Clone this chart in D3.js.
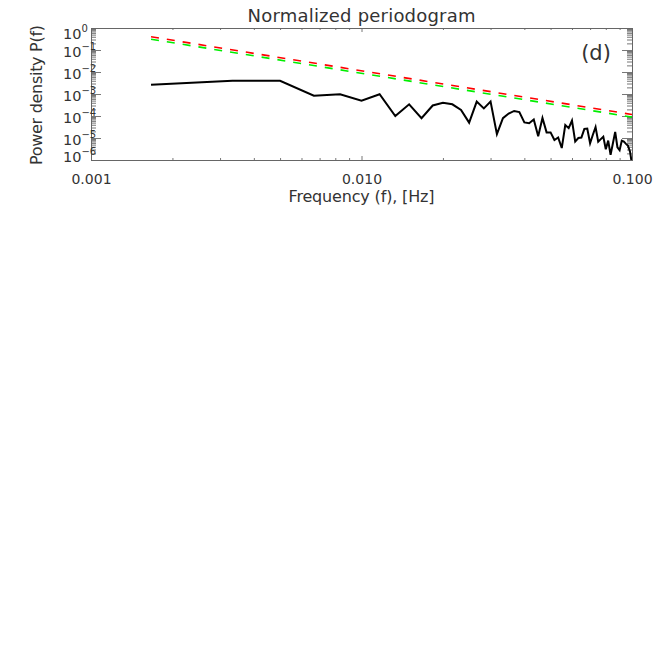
<!DOCTYPE html>
<html>
<head>
<meta charset="utf-8">
<script src="https://cdn.jsdelivr.net/npm/d3@7"></script>
<style>
  body { margin: 0; background: #fff; }
  text { font-family: "DejaVu Sans", sans-serif; fill: #333; }
</style>
</head>
<body>
<svg width="658" height="658"></svg>
<script>
// frequencies of the periodogram (k / 600 Hz), in Hz
const freqs = [
  0.001667, 0.003333, 0.005, 0.006667, 0.008333, 0.01, 0.011667, 0.013333, 0.015, 0.016667,
  0.018333, 0.02, 0.021667, 0.023333, 0.025, 0.026667, 0.028333, 0.03, 0.031667, 0.033333,
  0.035, 0.036667, 0.038333, 0.04, 0.041667, 0.043333, 0.045, 0.046667, 0.048333, 0.05,
  0.051667, 0.053333, 0.055, 0.056667, 0.058333, 0.06, 0.061667, 0.063333, 0.065, 0.066667,
  0.068333, 0.07, 0.071667, 0.073333, 0.075, 0.076667, 0.078333, 0.08, 0.081667, 0.083333,
  0.085, 0.086667, 0.088333, 0.09, 0.091667, 0.093333, 0.095, 0.096667, 0.098333, 0.1
];

// normalized power density
const power = [
  2.6e-3, 4.0e-3, 4.0e-3, 8.3e-4, 9.8e-4, 5.0e-4, 9.8e-4, 1.0e-4, 3.4e-4, 8.0e-5,
  3.0e-4, 4.0e-4, 3.4e-4, 1.9e-4, 5.0e-5, 4.5e-4, 2.2e-4, 4.5e-4, 1.5e-5, 8.0e-5,
  1.3e-4, 1.7e-4, 1.5e-4, 5.1e-5, 4.7e-5, 6.9e-5, 1.2e-5, 8.1e-5, 1.8e-5, 1.8e-5,
  8.1e-6, 1.05e-5, 3.5e-6, 3.9e-5, 2.8e-5, 6.2e-5, 6.9e-6, 1.0e-5, 1.05e-5, 2.6e-5,
  2.7e-5, 5.8e-6, 1.4e-5, 3.1e-5, 6.8e-6, 8.9e-6, 1.15e-5, 3.1e-6, 7.6e-6, 1.7e-6,
  5.8e-6, 1.9e-5, 3.8e-6, 2.8e-6, 7.6e-6, 6.8e-6, 5.4e-6, 4.4e-6, 2.4e-6, 6.3e-7
];

// power-law levels (end points of the dashed lines)
const levelFreqs = [0.001667, 0.1];
const redLevel = [0.40, 1.17e-4];
const greenLevel = [0.31, 8.9e-5];

const xDomain = [0.001, 0.1];
const yDomain = [1e-6, 1];

const svg = d3.select('svg');
const x0 = 91, x1 = 632, y0 = 28, y1 = 160;

const x = d3.scaleLog().domain(xDomain).range([x0, x1]);
const y = d3.scaleLog().domain(yDomain).range([y1, y0]);

const isMajor = d => Math.abs(Math.log10(d) - Math.round(Math.log10(d))) < 1e-6;
const xMajor = x.ticks().filter(isMajor), xMinor = x.ticks().filter(d => !isMajor(d));
const yMajor = y.ticks().filter(isMajor), yMinor = y.ticks().filter(d => !isMajor(d));

svg.append('clipPath').attr('id', 'plot')
  .append('rect').attr('x', x0).attr('y', y0)
  .attr('width', x1 - x0).attr('height', y1 - y0);

// ticks, all pointing inward
function ticks(axis, tx, ty) {
  const g = svg.append('g').attr('transform', `translate(${tx},${ty})`).call(axis);
  g.select('.domain').remove();
  g.selectAll('line').attr('stroke', '#777');
  return g;
}
ticks(d3.axisBottom(x).tickValues(xMajor).tickSize(-4).tickPadding(14)
  .tickFormat(d3.format('.3f')), 0, y1)
  .attr('font-family', null).attr('font-size', null)
  .selectAll('text').attr('font-size', 14).attr('fill', '#333');
ticks(d3.axisBottom(x).tickValues(xMinor).tickSize(-2).tickFormat(''), 0, y1);
ticks(d3.axisTop(x).tickValues(xMajor).tickSize(-4).tickFormat(''), 0, y0);
ticks(d3.axisTop(x).tickValues(xMinor).tickSize(-2).tickFormat(''), 0, y0);
ticks(d3.axisLeft(y).tickValues(yMajor).tickSize(-10).tickFormat(''), x0, 0);
ticks(d3.axisLeft(y).tickValues(yMinor).tickSize(-5).tickFormat(''), x0, 0);
ticks(d3.axisRight(y).tickValues(yMajor).tickSize(-10).tickFormat(''), x1, 0);
ticks(d3.axisRight(y).tickValues(yMinor).tickSize(-5).tickFormat(''), x1, 0);

// frame
svg.append('rect')
  .attr('x', x0 + 0.5).attr('y', y0 + 0.5)
  .attr('width', x1 - x0).attr('height', y1 - y0)
  .attr('fill', 'none').attr('stroke', '#666');

// y labels as 10^n, kept inside the frame height
const yLab = svg.append('g').selectAll('text')
  .data(yMajor)
  .join('text')
  .attr('x', 63)
  .attr('y', d => Math.max(39, Math.min(162, y(d) + 7)))
  .attr('font-size', 14.5);
yLab.append('tspan').text('10');
yLab.append('tspan')
  .attr('font-size', 10).attr('dy', -7.3)
  .text(d => String(Math.round(Math.log10(d))).replace('-', '\u2212'));

// dashed power-law levels
const line = d3.line().x(d => x(d[0])).y(d => y(d[1]));
[[redLevel, '#ff0000'], [greenLevel, '#00ee00']].forEach(([lv, c]) => {
  svg.append('path')
    .datum(levelFreqs.map((f, i) => [f, lv[i]]))
    .attr('d', line)
    .attr('fill', 'none').attr('stroke', c)
    .attr('stroke-width', 1.6).attr('stroke-dasharray', '8,8');
});

// periodogram
svg.append('path')
  .datum(freqs.map((f, i) => [f, power[i]]))
  .attr('clip-path', 'url(#plot)')
  .attr('d', line)
  .attr('fill', 'none').attr('stroke', '#000')
  .attr('stroke-width', 2).attr('stroke-linejoin', 'miter');

// texts
svg.append('text')
  .attr('x', (x0 + x1) / 2).attr('y', 21.5)
  .attr('text-anchor', 'middle').attr('font-size', 18)
  .attr('textLength', 228).attr('lengthAdjust', 'spacing')
  .text('Normalized periodogram');

svg.append('text')
  .attr('x', (x0 + x1) / 2).attr('y', 201.5)
  .attr('text-anchor', 'middle').attr('font-size', 16)
  .attr('textLength', 146).attr('lengthAdjust', 'spacing')
  .text('Frequency (f), [Hz]');

svg.append('text')
  .attr('transform', `translate(42,${(y0 + y1) / 2 + 1}) rotate(-90)`)
  .attr('text-anchor', 'middle').attr('font-size', 16)
  .attr('textLength', 140).attr('lengthAdjust', 'spacing')
  .text('Power density P(f)');

svg.append('text')
  .attr('x', 596).attr('y', 60)
  .attr('text-anchor', 'middle').attr('font-size', 21)
  .text('(d)');
</script>
</body>
</html>
